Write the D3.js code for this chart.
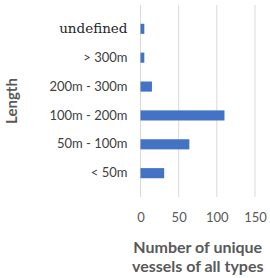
<!DOCTYPE html>
<html>
<head>
<meta charset="utf-8">
<script src="https://cdn.jsdelivr.net/npm/d3@7"></script>
<style>
  body { margin: 0; background: #fff; }
  text { font-family: Lato, "Open Sans", sans-serif; }
</style>
</head>
<body>
<script>
// categories top to bottom, as shown
var lengths = ["undefined", "> 300m", "200m - 300m", "100m - 200m", "50m - 100m", "< 50m"];
var vessels = [5, 5, 15, 110, 64, 31];
var xTicks = [0, 50, 100, 150];

var data = lengths.map(function(l, i) { return {length: l, count: vessels[i]}; });

var W = 270, H = 278;
var margin = {top: 5, right: 15, bottom: 81, left: 140.5};
var width = W - margin.left - margin.right,
    height = H - margin.top - margin.bottom;

var svg = d3.select("body").append("svg")
    .attr("width", W)
    .attr("height", H);

var g = svg.append("g")
    .attr("transform", "translate(" + margin.left + "," + margin.top + ")");

var x = d3.scaleLinear().domain([0, 150]).range([0, 114.5]);
var y = d3.scaleBand().domain(lengths).range([0, height]).padding(0.65);

// gridlines
g.selectAll(".grid")
    .data(xTicks)
  .enter().append("line")
    .attr("class", "grid")
    .attr("x1", function(d) { return x(d); })
    .attr("x2", function(d) { return x(d); })
    .attr("y1", 0)
    .attr("y2", height)
    .attr("stroke", "#d9d9d9")
    .attr("stroke-width", 1);

// bars
g.selectAll(".bar")
    .data(data)
  .enter().append("rect")
    .attr("class", "bar")
    .attr("x", x(0))
    .attr("y", function(d) { return y(d.length); })
    .attr("width", function(d) { return x(d.count) - x(0); })
    .attr("height", y.bandwidth())
    .attr("fill", "#4472c4");

// x axis labels
var xAxis = d3.axisBottom(x).tickValues(xTicks).tickSize(0).tickPadding(16);
g.append("g")
    .attr("transform", "translate(0," + height + ")")
    .call(xAxis)
    .call(function(a) { a.select(".domain").remove(); })
    .selectAll("text")
      .style("font-family", "Lato, sans-serif")
      .style("font-size", "13px")
      .attr("fill", "#595959");

// y axis labels
var yAxis = d3.axisLeft(y).tickSize(0).tickPadding(13);
g.append("g")
    .call(yAxis)
    .call(function(a) { a.select(".domain").remove(); })
    .selectAll("text")
      .style("font-size", function(d) { return d == "undefined" ? "13.5px" : "13px"; })
      .style("font-family", function(d) { return d == "undefined" ? "'DejaVu Serif', serif" : "Lato, sans-serif"; })
      .attr("fill", function(d) { return d == "undefined" ? "#262626" : "#404040"; });

// axis titles
svg.append("text")
    .attr("x", margin.left + x(75))
    .attr("y", 253)
    .attr("text-anchor", "middle")
    .style("font-size", "16px")
    .style("font-weight", "bold")
    .attr("fill", "#595959")
  .selectAll("tspan")
    .data(["Number of unique", "vessels of all types"])
  .enter().append("tspan")
    .attr("x", margin.left + x(75))
    .attr("dy", function(d, i) { return i ? 19 : 0; })
    .text(function(d) { return d; });

svg.append("text")
    .attr("transform", "translate(17," + (margin.top + height / 2) + ") rotate(-90)")
    .attr("text-anchor", "middle")
    .style("font-size", "15px")
    .style("font-weight", "bold")
    .attr("fill", "#595959")
    .text("Length");
</script>
</body>
</html>
